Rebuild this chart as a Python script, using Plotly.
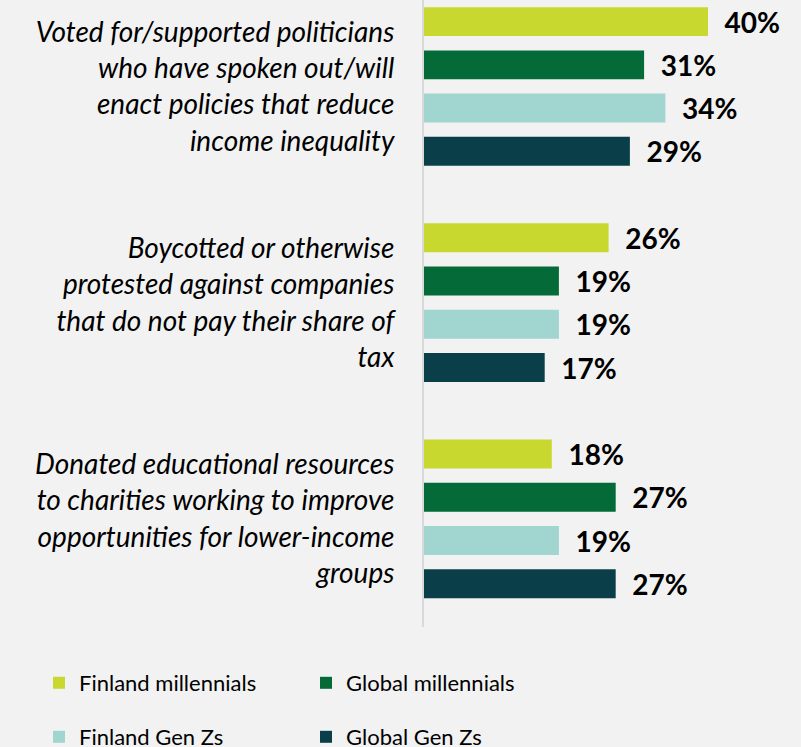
import plotly.graph_objects as go

categories = [
    "Voted for/supported politicians<br>who have spoken out/will<br>enact policies that reduce<br>income inequality",
    "Boycotted or otherwise<br>protested against companies<br>that do not pay their share of<br>tax",
    "Donated educational resources<br>to charities working to improve<br>opportunities for lower-income<br>groups",
]
finland_millennials = [40, 26, 18]
global_millennials = [31, 19, 27]
finland_genz = [34, 19, 19]
global_genz = [29, 17, 27]

series = [
    ("Finland millennials", finland_millennials, "#C8D82E", "legend"),
    ("Global millennials", global_millennials, "#046A38", "legend"),
    ("Finland Gen Zs", finland_genz, "#A0D5D0", "legend2"),
    ("Global Gen Zs", global_genz, "#0A3F4A", "legend2"),
]

BG = "#F2F2F2"
W, H = 801, 747
L, B = 424, 120
PLOT_W, PLOT_H = W - L, H - B


def to_paper(px_x, px_y):
    # pixel position on the page -> paper coordinates of the plot area
    return (px_x - L) / PLOT_W, (PLOT_H - px_y) / PLOT_H


fig = go.Figure()
for name, vals, color, leg in series:
    fig.add_trace(
        go.Bar(
            y=categories,
            x=vals,
            orientation="h",
            name=name,
            marker=dict(color=color, line=dict(width=0)),
            texttemplate="\u00a0\u00a0%{x}%",
            textposition="outside",
            constraintext="none",
            cliponaxis=False,
            textfont=dict(family="Lato", size=28, color="#000000", weight="bold"),
            legend=leg,
            hoverinfo="skip",
        )
    )

leg1_x, leg1_y = to_paper(39, 683)
leg2_x, leg2_y = to_paper(39, 737)
legend_style = dict(
    orientation="h",
    xanchor="left",
    yanchor="middle",
    entrywidth=222,
    entrywidthmode="pixels",
    font=dict(family="Lato", size=22, color="#000000"),
    bgcolor="rgba(0,0,0,0)",
)

fig.update_layout(
    width=W,
    height=H,
    barmode="group",
    bargap=0.2,
    bargroupgap=0.33,
    paper_bgcolor=BG,
    plot_bgcolor=BG,
    margin=dict(l=L, r=0, t=0, b=B, autoexpand=False),
    font=dict(family="Lato", color="#000000"),
    xaxis=dict(range=[0, 53.1], visible=False, fixedrange=True),
    yaxis=dict(
        range=[2.5, -0.4],
        showline=True,
        linecolor="#D9D9D9",
        linewidth=2,
        ticks="",
        ticklabelstandoff=22,
        tickfont=dict(family="Lato", size=28, style="italic", color="#000000"),
        showgrid=False,
        fixedrange=True,
    ),
    legend=dict(x=leg1_x, y=leg1_y, **legend_style),
    legend2=dict(x=leg2_x, y=leg2_y, **legend_style),
)

fig.write_html(
    "out.html",
    config={"displayModeBar": False},
    post_script="document.body.style.margin='0';",
)
